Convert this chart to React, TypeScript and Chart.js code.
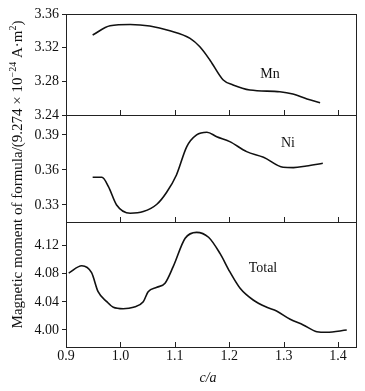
import { useEffect, useRef } from "react";
import { Chart, registerables } from "chart.js";

Chart.register(...registerables);

// ---- data ----
const mnX = [0.949, 0.981, 1.018, 1.054, 1.091, 1.128, 1.146, 1.165, 1.189, 1.207, 1.238, 1.293, 1.317, 1.343, 1.367];
const mnY = [3.335, 3.346, 3.3475, 3.3457, 3.34, 3.331, 3.321, 3.3048, 3.2816, 3.2757, 3.2697, 3.2677, 3.265, 3.259, 3.2546];

const niX = [0.949, 0.966, 0.978, 0.993, 1.018, 1.042, 1.067, 1.085, 1.103, 1.122, 1.14, 1.159, 1.177, 1.201, 1.232, 1.263, 1.299, 1.318, 1.342, 1.372];
const niY = [0.3537, 0.3537, 0.3457, 0.33, 0.3229, 0.3243, 0.3306, 0.3409, 0.3557, 0.38, 0.39, 0.3923, 0.3885, 0.3843, 0.3757, 0.3709, 0.3623, 0.362, 0.3634, 0.3657];

const totX = [0.905, 0.929, 0.947, 0.959, 0.975, 0.987, 1.005, 1.024, 1.042, 1.051, 1.067, 1.082, 1.097, 1.119, 1.14, 1.162, 1.183, 1.201, 1.22, 1.244, 1.269, 1.287, 1.312, 1.336, 1.361, 1.379, 1.416];
const totY = [4.081, 4.0915, 4.0816, 4.0545, 4.0403, 4.0323, 4.0303, 4.0323, 4.0403, 4.0545, 4.0608, 4.0665, 4.0901, 4.1305, 4.139, 4.132, 4.109, 4.083, 4.0594, 4.0427, 4.0323, 4.027, 4.0153, 4.0072, 3.9976, 3.9967, 4.0];

const xTicks = [0.9, 1.0, 1.1, 1.2, 1.3, 1.4];
const mnTicks = [3.24, 3.28, 3.32, 3.36];
const niTicks = [0.33, 0.36, 0.39];
const totTicks = [4.0, 4.04, 4.08, 4.12];

const seriesNames = ["Mn", "Ni", "Total"];
const xTitle = "c/a";

const FONT = "'Liberation Serif', 'DejaVu Serif', serif";
const INK = "#111";

function pts(xs: number[], ys: number[]) {
  return xs.map((x, i) => ({ x, y: ys[i] }));
}

const framePlugin = {
  id: "framePlugin",
  afterDraw(chart: any) {
    const { ctx, chartArea, scales } = chart;
    const x = scales.x;
    const panels = [scales.yMn, scales.yNi, scales.yTot];
    ctx.save();
    ctx.strokeStyle = "#222";
    ctx.lineWidth = 1;
    for (const p of panels) {
      ctx.strokeRect(Math.round(chartArea.left) + 0.5, Math.round(p.top) + 0.5, Math.round(chartArea.right - chartArea.left), Math.round(p.bottom - p.top));
      // inward x tick marks at the bottom of each panel
      ctx.beginPath();
      for (const t of xTicks) {
        const px = Math.round(x.getPixelForValue(t)) + 0.5;
        ctx.moveTo(px, Math.round(p.bottom));
        ctx.lineTo(px, Math.round(p.bottom) - 5);
      }
      ctx.stroke();
    }

    // series labels
    ctx.fillStyle = INK;
    ctx.font = `14px ${FONT}`;
    ctx.textAlign = "center";
    ctx.textBaseline = "middle";
    ctx.fillText(seriesNames[0], x.getPixelForValue(1.275), scales.yMn.getPixelForValue(3.2887));
    ctx.fillText(seriesNames[1], x.getPixelForValue(1.308), scales.yNi.getPixelForValue(0.3831));
    ctx.fillText(seriesNames[2], x.getPixelForValue(1.262), scales.yTot.getPixelForValue(4.088));

    // x title
    ctx.font = `italic 14px ${FONT}`;
    ctx.fillText(xTitle, (chartArea.left + chartArea.right) / 2 - 3, chartArea.bottom + 31);

    // y title with superscripts
    const segs: [string, boolean][] = [
      ["Magnetic moment of formula/(9.274 \u00d7 10", false],
      ["\u221224", true],
      [" A\u00b7m", false],
      ["2", true],
      [")", false],
    ];
    const normal = `15px ${FONT}`;
    const sup = `10px ${FONT}`;
    let total = 0;
    for (const [s, isSup] of segs) {
      ctx.font = isSup ? sup : normal;
      total += ctx.measureText(s).width;
    }
    const cy = (chartArea.top + chartArea.bottom) / 2 - 6;
    ctx.translate(22, cy);
    ctx.rotate(-Math.PI / 2);
    ctx.textAlign = "left";
    ctx.textBaseline = "alphabetic";
    let cx = -total / 2;
    for (const [s, isSup] of segs) {
      ctx.font = isSup ? sup : normal;
      ctx.fillText(s, cx, isSup ? -6 : 0);
      cx += ctx.measureText(s).width;
    }
    ctx.restore();
  },
};

function yAxis(min: number, max: number, ticks: number[], weight: number) {
  return {
    type: "linear",
    position: "left",
    stack: "panels",
    stackWeight: weight,
    min,
    max,
    afterBuildTicks: (a: any) => {
      a.ticks = ticks.map((v) => ({ value: v }));
    },
    afterFit: (a: any) => {
      a.width = 36;
    },
    grid: { drawOnChartArea: false, drawTicks: true, tickLength: 4, color: "#222", lineWidth: 1 },
    border: { display: false },
    ticks: {
      autoSkip: false,
      padding: 3,
      color: INK,
      font: { family: FONT, size: 14 },
      callback: (v: any) => Number(v).toFixed(2),
    },
  };
}

export default function App() {
  const ref = useRef<HTMLCanvasElement | null>(null);
  useEffect(() => {
    if (!ref.current) return;
    const line = (data: any, yAxisID: string) => ({
      data,
      yAxisID,
      xAxisID: "x",
      borderColor: INK,
      borderWidth: 1.6,
      pointRadius: 0,
      fill: false,
      cubicInterpolationMode: "monotone",
    });
    const chart = new Chart(ref.current, {
      type: "line",
      data: {
        datasets: [
          line(pts(mnX, mnY), "yMn"),
          line(pts(niX, niY), "yNi"),
          line(pts(totX, totY), "yTot"),
        ],
      },
      options: {
        animation: false,
        responsive: false,
        layout: { padding: { left: 30, right: 9, top: 14, bottom: 0 } },
        plugins: { legend: { display: false }, tooltip: { enabled: false } },
        scales: {
          x: {
            type: "linear",
            position: "bottom",
            min: 0.9,
            max: 1.433,
            afterBuildTicks: (a: any) => {
              a.ticks = xTicks.map((v) => ({ value: v }));
            },
            afterFit: (a: any) => {
              a.height = 44;
            },
            grid: { drawOnChartArea: false, drawTicks: false },
            border: { display: false },
            ticks: {
              autoSkip: false,
              padding: 1,
              maxRotation: 0,
              color: INK,
              font: { family: FONT, size: 14 },
              callback: (v: any) => Number(v).toFixed(1),
            },
          },
          yTot: yAxis(3.9758, 4.1537, totTicks, 125),
          yNi: yAxis(0.3154, 0.4071, niTicks, 107),
          yMn: yAxis(3.24, 3.36, mnTicks, 101),
        } as any,
      },
      plugins: [framePlugin],
    } as any);
    return () => chart.destroy();
  }, []);
  return (
    <div style={{ position: "absolute", left: 0, top: 0, width: 365, height: 391, background: "#fff" }}>
      <canvas ref={ref} width={365} height={391} style={{ display: "block" }} />
    </div>
  );
}
